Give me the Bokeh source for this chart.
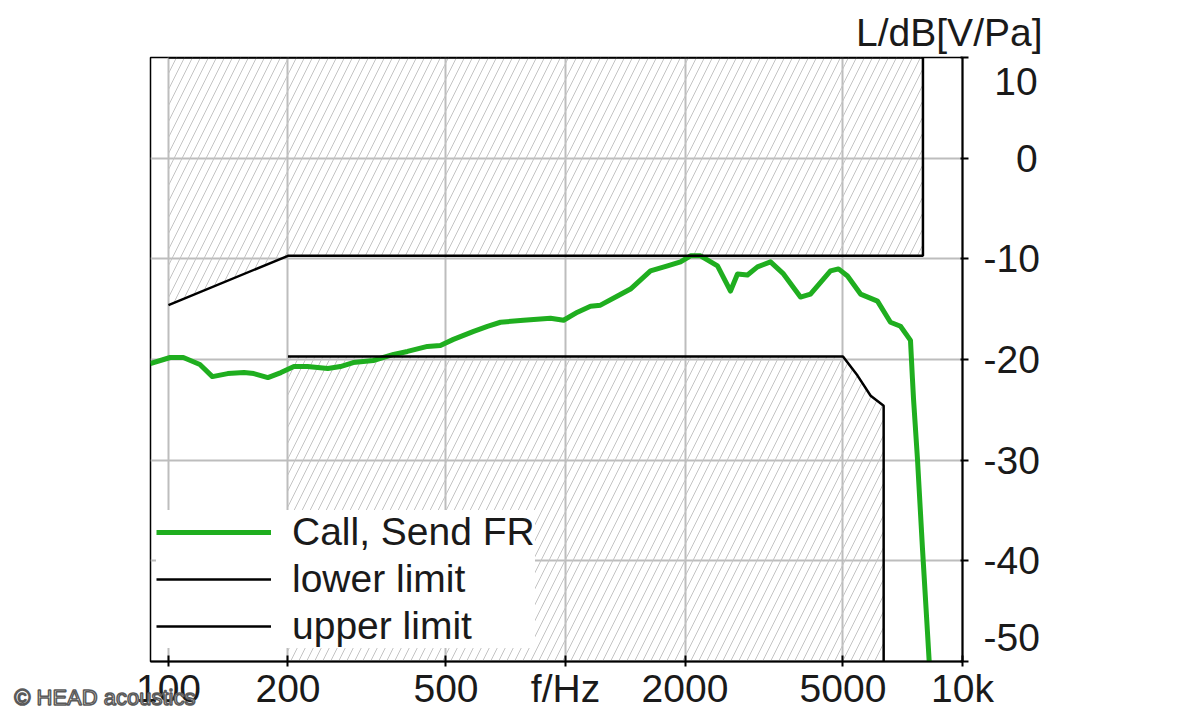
from bokeh.plotting import figure
from bokeh.models import (Range1d, FixedTicker, Legend, LegendItem, Title,
                          LinearAxis)
from bokeh.embed import file_html
from bokeh.resources import INLINE

# Measured send frequency response (Hz, dB[V/Pa])
freq = [90, 101, 109, 120, 129, 141, 155, 164, 178, 192, 207, 224, 252, 271, 292,
        328, 369, 400, 449, 484, 522, 587, 636, 686, 784, 917, 989, 1072, 1156, 1225,
        1352, 1458, 1637, 1807, 1949, 2065, 2188, 2415, 2604, 2712, 2873, 3045, 3284,
        3541, 3907, 4141, 4650, 4872, 5133, 5536, 6108, 6585, 6980, 7396, 7480, 7527,
        7702, 7929, 8162, 8300]
level = [-20.4, -19.8, -19.8, -20.5, -21.7, -21.4, -21.3, -21.4, -21.8, -21.3, -20.7,
         -20.7, -20.9, -20.7, -20.3, -20.1, -19.5, -19.2, -18.7, -18.6, -18.0, -17.2,
         -16.7, -16.3, -16.1, -15.9, -16.1, -15.3, -14.7, -14.6, -13.7, -13.0, -11.2,
         -10.7, -10.3, -9.7, -9.7, -10.7, -13.2, -11.5, -11.6, -10.8, -10.3, -11.5,
         -13.8, -13.5, -11.2, -11.0, -11.7, -13.5, -14.2, -16.3, -16.7, -18.1, -21.9,
         -23.9, -29.9, -38.8, -47.1, -52.0]

# Tolerance mask
upper_f = [100, 200, 7950, 7950, 100]
upper_db = [-14.6, -9.7, -9.7, 10, 10]
lower_f = [200, 5000, 5440, 5870, 6330, 6330]
lower_db = [-19.7, -19.7, -21.6, -23.6, -24.6, -50]

x_ticks = [100, 200, 500, 1000, 2000, 5000, 10000]
x_tick_labels = ["100", "200", "500", "f/Hz", "2000", "5000", "10k"]
y_ticks = [10, 0, -10, -20, -30, -40, -50]
y_tick_labels = ["\n\u200810", "\u2007\u20080", "-10", "-20", "-30", "-40", "-50\n"]

FONT = "Liberation Sans"
GREEN = "#1fae1f"
TXT = "#1a1a1a"

p = figure(width=1192, height=712, x_axis_type="log",
           x_range=Range1d(90.1, 10000), y_range=Range1d(-50, 10),
           y_axis_location="right", output_backend="svg", toolbar_location=None,
           min_border_left=150, min_border_right=230, min_border_top=57,
           min_border_bottom=50, background_fill_color="white",
           border_fill_color="white")

p.outline_line_color = "black"
p.outline_line_width = 1.5

# hatched forbidden zones
p.patch(upper_f, upper_db, fill_alpha=0, line_color=None, hatch_pattern="/",
        hatch_color="#c4c4c4", hatch_weight=1, hatch_scale=16)
p.patch(lower_f + [200], lower_db + [-50], fill_alpha=0, line_color=None,
        hatch_pattern="/", hatch_color="#c4c4c4", hatch_weight=1, hatch_scale=16)

g = p.line(freq, level, line_color=GREEN, line_width=5, line_join="round")
lo = p.line(lower_f, lower_db, line_color="black", line_width=2.5)
up = p.line(upper_f, upper_db, line_color="black", line_width=2.5)

# grids
p.xgrid.ticker = FixedTicker(ticks=x_ticks)
p.ygrid.ticker = FixedTicker(ticks=y_ticks)
for gr in (p.xgrid, p.ygrid):
    gr.grid_line_color = "#bdbdbd"
    gr.grid_line_width = 2

# x axis
xa = p.xaxis[0]
xa.ticker = FixedTicker(ticks=x_ticks)
xa.major_label_overrides = {t: l for t, l in zip(x_ticks, x_tick_labels)}
xa.minor_tick_line_color = None
xa.axis_line_color = "black"
xa.axis_line_width = 2
xa.major_tick_line_color = "black"
xa.major_tick_line_width = 2
xa.major_tick_in = 6
xa.major_tick_out = 5
xa.major_label_standoff = 0
xa.major_label_text_font = FONT
xa.major_label_text_font_size = "39px"
xa.major_label_text_color = TXT

# y axis (right)
ya = p.yaxis[0]
ya.ticker = FixedTicker(ticks=y_ticks)
ya.major_label_overrides = {t: l for t, l in zip(y_ticks, y_tick_labels)}
ya.minor_tick_line_color = None
ya.axis_line_color = "black"
ya.axis_line_width = 2
ya.major_tick_line_color = "black"
ya.major_tick_line_width = 2
ya.major_tick_in = 2
ya.major_tick_out = 6
ya.major_label_standoff = 15
ya.major_label_text_font = FONT
ya.major_label_text_font_size = "39px"
ya.major_label_text_color = TXT
ya.major_label_text_line_height = 1.1

# axis title at top right
p.add_layout(Title(text="L/dB[V/Pa]", align="right", offset=-80, standoff=8,
                   text_font=FONT, text_font_size="39px",
                   text_font_style="normal", text_color=TXT), "above")

legend = Legend(items=[LegendItem(label="Call, Send FR", renderers=[g]),
                       LegendItem(label="lower limit", renderers=[lo]),
                       LegendItem(label="upper limit", renderers=[up])],
                location=(6, 13), margin=0, padding=7, spacing=3,
                glyph_width=115, glyph_height=40, label_height=40,
                label_standoff=21, label_text_font=FONT,
                label_text_font_size="39px", label_text_color=TXT,
                border_line_color=None, background_fill_color="white",
                background_fill_alpha=1)
p.add_layout(legend)

# copyright watermark in the lower-left corner
wm = LinearAxis(ticker=FixedTicker(ticks=[-50]),
                major_label_overrides={-50: "\n\u00a9 HEAD acoustics"},
                axis_line_color=None, major_tick_line_color=None,
                minor_tick_line_color=None, major_tick_in=0, major_tick_out=0,
                major_label_standoff=-45, major_label_text_font=FONT,
                major_label_text_font_size="22px", major_label_text_color="white",
                major_label_text_outline_color="#5a5a5a",
                major_label_text_line_height=2.85)
p.add_layout(wm, "left")

open("out.html", "w").write(file_html(p, INLINE))
